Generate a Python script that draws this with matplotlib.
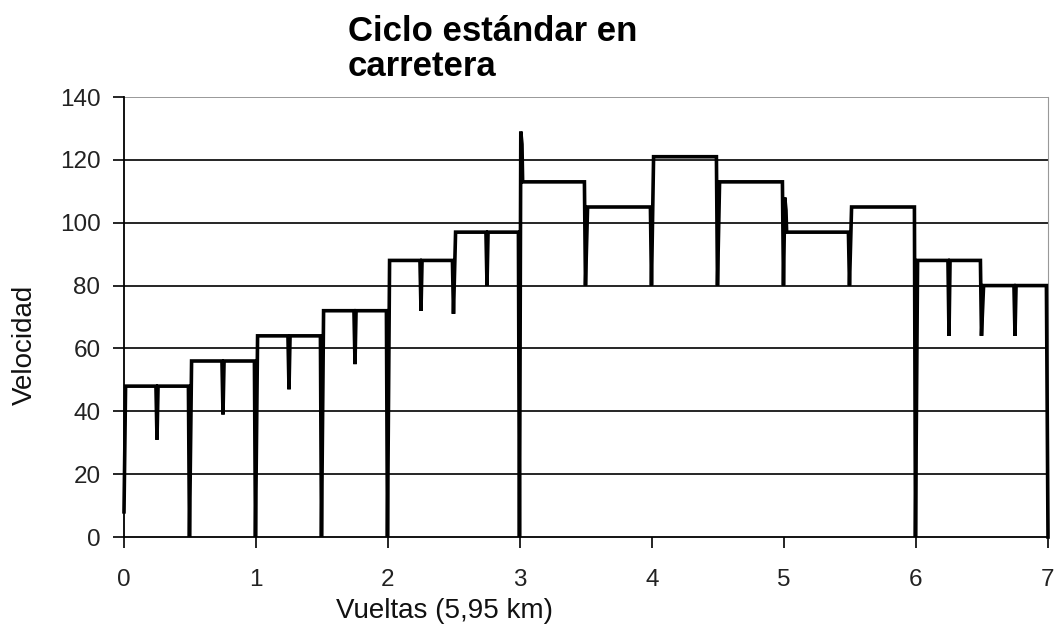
import numpy as np
import matplotlib.pyplot as plt

plt.rcParams['font.family'] = ['Liberation Sans', 'DejaVu Sans']

# speed level held over each half lap (km/h)
levels = [48, 56, 64, 72, 88, 97, 113, 105, 121, 113, 97, 105, 88, 80]
half_lap = 0.5
start_speed = 8
# lowest speed reached at each half-lap change (0.5, 1.0, ... 6.5)
change_min = [0, 0, 0, 0, 71, 0, 80, 80, 80, 80, 80, 0, 64]
# overshoot right after a change (None = no overshoot)
overshoot = [None, None, None, None, None, None, 129, None, None, None, 108, None, None, None]
# short dip in the middle of each half lap (None = no dip)
mid_dip = [31, 39, 47, 55, 72, 80, None, None, None, None, None, None, 64, 64]
end_speed = 0

# build the speed trace
tx, ty = [0.0], [start_speed]
for i, lvl in enumerate(levels):
    x0 = i * half_lap
    if i > 0:
        tx.append(x0 - 0.004)
        ty.append(change_min[i - 1])
    if overshoot[i] is not None:
        tx += [x0 + 0.006, x0 + 0.015, x0 + 0.02]
        ty += [overshoot[i], overshoot[i] - 4, lvl]
    else:
        tx.append(x0 + 0.012)
        ty.append(lvl)
    if mid_dip[i] is not None:
        xm = x0 + half_lap / 2
        tx += [xm - 0.008, xm, xm + 0.008]
        ty += [lvl, mid_dip[i], lvl]
    tx.append(x0 + half_lap - 0.012)
    ty.append(lvl)
tx.append(len(levels) * half_lap)
ty.append(end_speed)

fig = plt.figure(figsize=(10.56, 6.28), dpi=100)
ax = fig.add_axes([124 / 1056, 1 - 537 / 628, 924 / 1056, 440 / 628])

yt = np.arange(0, 141, 20)
for v in yt[1:]:
    ax.axhline(v, color='black' if v < 140 else '#888888', lw=1.2, zorder=1)

ax.plot(tx, ty, color='black', lw=2.6, solid_joinstyle='miter', zorder=3, clip_on=False)

ax.set_xlim(0, 7)
ax.set_ylim(0, 140)
ax.set_xticks(range(8))
ax.set_yticks(yt)
ax.tick_params(direction='out', length=8, width=1.2, labelsize=17.5, colors='black',
               labelcolor='#222222')
ax.tick_params(axis='x', pad=15)
ax.tick_params(axis='y', pad=9)
ax.spines['top'].set_visible(False)
ax.spines['right'].set_color('#999999')
ax.spines['left'].set_linewidth(1.3)
ax.spines['bottom'].set_linewidth(1.3)

fig.text(444 / 1056, 1 - 611 / 628, 'Vueltas (5,95 km)', fontsize=20,
         ha='center', va='center', color='#111111')
fig.text(25 / 1056, 1 - 345 / 628, 'Velocidad', fontsize=20, rotation=90,
         ha='center', va='center', color='#111111')
fig.text(348 / 1056, 1 - 41 / 628, 'Ciclo estándar en', fontsize=25,
         fontweight='bold', ha='left', va='baseline')
fig.text(348 / 1056, 1 - 76 / 628, 'carretera', fontsize=25,
         fontweight='bold', ha='left', va='baseline')

fig.savefig('out.png', dpi=100)
